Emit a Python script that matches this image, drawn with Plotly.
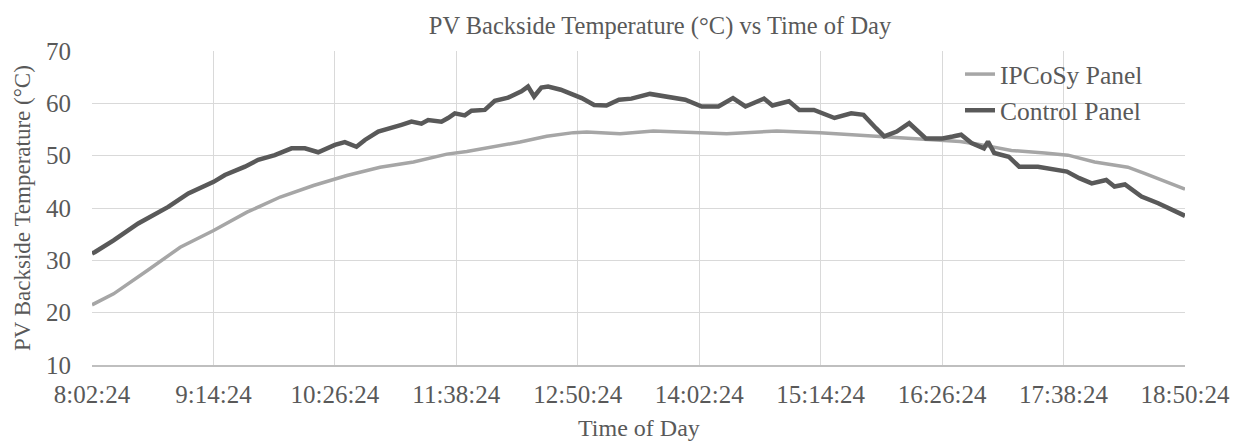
import plotly.graph_objects as go

# minutes after 8:02:24
ctrl_t = [0, 1.8, 12.8, 27.4, 45.2, 57.1, 72.1, 78.8, 90.7, 98.5, 108.4, 118.3, 126.2, 134.1,
          144.0, 149.9, 156.8, 161.8, 169.7, 175.6, 183.5, 189.4, 195.3, 199.3, 207.2, 211.1,
          215.1, 221.0, 225.0, 232.9, 238.8, 246.7, 254.6, 258.5, 262.1, 266.4, 270.4, 277.9,
          290.3, 297.7, 305.0, 312.4, 319.8, 330.8, 339.4, 351.7, 361.5, 371.4, 380.0, 387.4,
          398.4, 403.4, 413.2, 419.3, 428.0, 435.3, 440.2, 450.1, 457.4, 464.8, 469.7, 477.1,
          484.5, 494.3, 504.2, 510.3, 515.3, 521.4, 528.8, 531.2, 534.9, 543.5, 549.7, 560.8,
          570.5, 578.0, 585.3, 592.7, 601.3, 606.2, 612.4, 622.2, 632.1, 639.4, 648.0]
ctrl_v = [31.3, 31.6, 33.8, 37.05, 40.2, 42.8, 45.0, 46.3, 47.9, 49.2, 50.1, 51.4, 51.4, 50.65,
          52.05, 52.6, 51.7, 53.0, 54.6, 55.25, 55.9, 56.5, 56.1, 56.8, 56.5, 57.2,
          58.1, 57.7, 58.6, 58.75, 60.5, 61.1, 62.3, 63.2, 61.3, 63.0, 63.2, 62.6,
          61.0, 59.7, 59.6, 60.7, 60.9, 61.8, 61.3, 60.7, 59.4, 59.4, 61.0, 59.4,
          60.9, 59.6, 60.4, 58.75, 58.75, 57.8, 57.2, 58.1, 57.8, 55.25, 53.7, 54.6,
          56.2, 53.3, 53.3, 53.65, 54.0, 52.4, 51.4, 52.7, 50.5, 49.8, 47.9, 47.9,
          47.45, 46.95, 45.7, 44.7, 45.35, 44.1, 44.5, 42.2, 40.9, 39.9, 38.5]

ipc_t = [0, 12.8, 32.6, 52.3, 72.1, 91.9, 111.6, 131.3, 151.1, 170.8, 190.6, 210.4, 222.2,
         240.0, 253.8, 269.6, 285.4, 293.3, 313.1, 332.8, 360.5, 376.3, 406.0, 431.6, 455.3,
         475.0, 494.8, 514.6, 525.3, 545.1, 564.8, 578.6, 594.4, 614.1, 624.0, 648.0]
ipc_v = [21.5, 23.6, 28.0, 32.5, 35.7, 39.2, 42.1, 44.3, 46.2, 47.8, 48.8, 50.3, 50.8,
         51.8, 52.6, 53.7, 54.4, 54.5, 54.2, 54.7, 54.3, 54.2, 54.7, 54.4, 53.9,
         53.5, 53.0, 52.7, 52.2, 51.0, 50.5, 50.1, 48.8, 47.8, 46.6, 43.6]

tick_vals = [0, 72, 144, 216, 288, 360, 432, 504, 576, 648]
tick_text = ["8:02:24", "9:14:24", "10:26:24", "11:38:24", "12:50:24", "14:02:24",
             "15:14:24", "16:26:24", "17:38:24", "18:50:24"]

FONT = "Liberation Serif"
TXT = "#595959"

fig = go.Figure()
fig.add_trace(go.Scatter(x=ipc_t, y=ipc_v, mode="lines", name="IPCoSy Panel",
                         line=dict(color="#A6A6A6", width=3.5)))
fig.add_trace(go.Scatter(x=ctrl_t, y=ctrl_v, mode="lines", name="Control Panel",
                         line=dict(color="#595959", width=4.5)))

fig.update_layout(
    width=1241, height=441,
    margin=dict(l=84, r=64, t=43, b=84),
    paper_bgcolor="white", plot_bgcolor="white",
    font=dict(family=FONT, color=TXT),
    title=dict(text="PV Backside Temperature (°C) vs Time of Day", x=652 / 1241, xref="container",
               xanchor="center", y=1 - 17 / 441, yref="container", yanchor="middle",
               font=dict(size=24.5, color=TXT, family=FONT)),
    legend=dict(x=(960 - 92) / 1093, y=1.0, xanchor="left", yanchor="top", bgcolor="rgba(0,0,0,0)",
                font=dict(size=25.5, color=TXT, family=FONT), tracegroupgap=0, itemwidth=30),
    showlegend=True,
    annotations=[
        dict(text="PV Backside Temperature (°C)", xref="paper", yref="paper", x=0, y=0.5,
             xanchor="center", yanchor="middle", xshift=-70, textangle=-90, showarrow=False,
             font=dict(size=23, color=TXT, family=FONT)),
        dict(text="Time of Day", xref="paper", yref="paper", x=0.5, y=0,
             xanchor="center", yanchor="middle", yshift=-63, showarrow=False,
             font=dict(size=24, color=TXT, family=FONT)),
    ],
)
fig.update_xaxes(range=[0, 648], tickvals=tick_vals, ticktext=tick_text, automargin=False,
                 showgrid=True, gridcolor="#D9D9D9", gridwidth=1,
                 showline=True, linecolor="#BFBFBF", linewidth=1.5, zeroline=False,
                 ticks="", ticklabelstandoff=6, tickfont=dict(size=25, color=TXT, family=FONT))
fig.update_yaxes(range=[10, 70], dtick=10, showgrid=True, gridcolor="#D9D9D9", gridwidth=1,
                 zeroline=False, showline=False, ticks="", automargin=False, ticklabelstandoff=20,
                 tickfont=dict(size=25, color=TXT, family=FONT))

fig.write_html("out.html")
